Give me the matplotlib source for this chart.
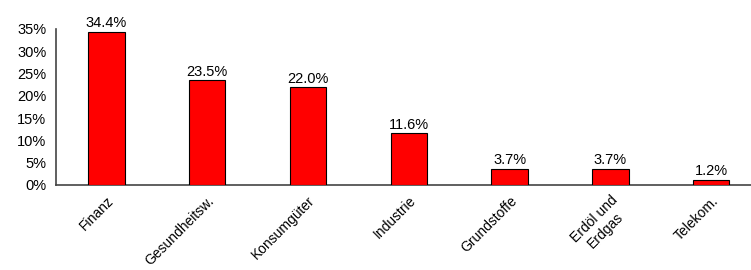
import matplotlib
matplotlib.use("Agg")
import matplotlib.pyplot as plt
from matplotlib.ticker import FuncFormatter

categories = ["Finanz", "Gesundheitsw.", "Konsumgüter", "Industrie", "Grundstoffe", "Erdöl und\nErdgas", "Telekom."]
values = [34.4, 23.5, 22.0, 11.6, 3.7, 3.7, 1.2]
yticks = [0, 5, 10, 15, 20, 25, 30, 35]

plt.rcParams['font.family'] = ['Liberation Sans', 'DejaVu Sans']
fig = plt.figure(figsize=(7.51, 2.70), dpi=100)
ax = fig.add_axes([56/751, 85/270, 705.6/751, 156/270])
x = list(range(len(categories)))
bars = ax.bar(x, values, width=0.36, color="#ff0000", edgecolor="black", linewidth=0.8, zorder=3)
for xi, v in zip(x, values):
    ax.text(xi, v + 0.3, f"{v:.1f}%", ha="center", va="bottom", fontsize=10.5, color="black")
ax.set_xlim(-0.5, len(categories) - 0.5)
ax.set_ylim(0, 35)
ax.set_yticks(yticks)
ax.yaxis.set_major_formatter(FuncFormatter(lambda v, p: f"{int(v)}%"))
ax.set_xticks(x)
ax.set_xticklabels(categories, rotation=45, ha="right", rotation_mode="anchor", fontsize=10, multialignment="center")
ax.tick_params(axis="both", length=0, colors="black")
ax.tick_params(axis="y", labelsize=10.5, pad=7)
ax.tick_params(axis="x", pad=6)
for s in ["top", "right"]:
    ax.spines[s].set_visible(False)
for s in ["left", "bottom"]:
    ax.spines[s].set_color("#444444")
    ax.spines[s].set_linewidth(1.2)
fig.savefig("out.png", dpi=100)
